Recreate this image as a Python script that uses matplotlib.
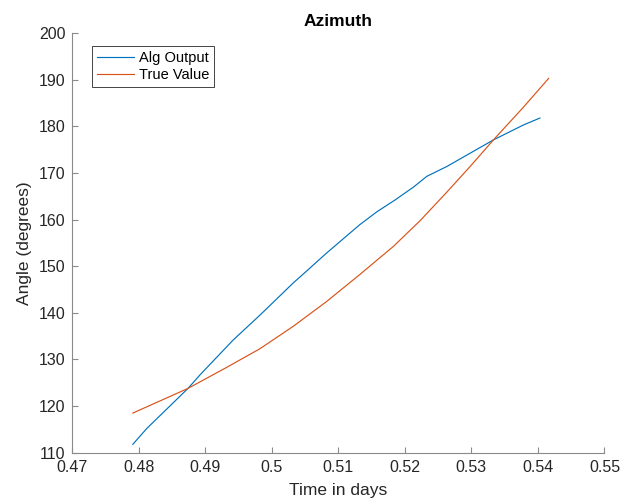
import matplotlib.pyplot as plt

# azimuth estimate vs. reference over the day fraction
alg_t = [0.4791, 0.4812, 0.4874, 0.4892, 0.4942, 0.4982, 0.5032, 0.5047,
         0.5082, 0.5132, 0.5158, 0.5185, 0.5213, 0.5233, 0.5263, 0.5333,
         0.5378, 0.5403]
alg_az = [111.8, 115.2, 123.8, 126.7, 134.2, 139.5, 146.4, 148.3,
          152.8, 158.9, 161.7, 164.2, 167.0, 169.3, 171.4, 177.1,
          180.3, 181.8]

true_t = [0.4791, 0.4874, 0.4932, 0.4982, 0.5032, 0.5082, 0.5132, 0.5183,
          0.5223, 0.5263, 0.5298, 0.5333, 0.5378, 0.5416]
true_az = [118.5, 123.8, 128.3, 132.3, 137.1, 142.4, 148.2, 154.3,
           159.8, 165.9, 171.4, 177.1, 184.1, 190.3]

x_ticks = [0.47, 0.48, 0.49, 0.50, 0.51, 0.52, 0.53, 0.54, 0.55]
x_labels = ['0.47', '0.48', '0.49', '0.5', '0.51', '0.52', '0.53', '0.54', '0.55']
y_ticks = [110, 120, 130, 140, 150, 160, 170, 180, 190, 200]

plt.rcParams['font.family'] = ['Liberation Sans', 'DejaVu Sans']

fig = plt.figure(figsize=(6.21, 5.03), dpi=100)
ax = fig.add_axes([0.1164, 0.1, 0.857, 0.834])

ax.plot(alg_t, alg_az, color='#0072BD', lw=0.85, label='Alg Output')
ax.plot(true_t, true_az, color='#D95319', lw=0.85, label='True Value')

ax.set_xlim(0.47, 0.55)
ax.set_ylim(110, 200)
ax.set_xticks(x_ticks)
ax.set_xticklabels(x_labels)
ax.set_yticks(y_ticks)

for side in ['top', 'right']:
    ax.spines[side].set_visible(False)
for side in ['left', 'bottom']:
    ax.spines[side].set_color('#8a8a8a')
    ax.spines[side].set_linewidth(0.8)
ax.tick_params(direction='in', length=4, width=0.8, color='#8a8a8a',
               labelsize=11.5, labelcolor='#262626', pad=5)

ax.set_title('Azimuth', fontsize=12.5, fontweight='bold', color='#000000', pad=5)
ax.set_xlabel('Time in days', fontsize=12.5, color='#262626', labelpad=6)
ax.set_ylabel('Angle (degrees)', fontsize=12.5, color='#262626', labelpad=5)

leg = ax.legend(loc='upper left', bbox_to_anchor=(0.0376, 0.970), fontsize=10.5,
                frameon=True, fancybox=False, framealpha=1, edgecolor='#262626',
                handlelength=2.5, handletextpad=0.35, labelspacing=0.2,
                borderpad=0.35, borderaxespad=0)
leg.get_frame().set_linewidth(0.6)

fig.savefig('out.png', dpi=100)
